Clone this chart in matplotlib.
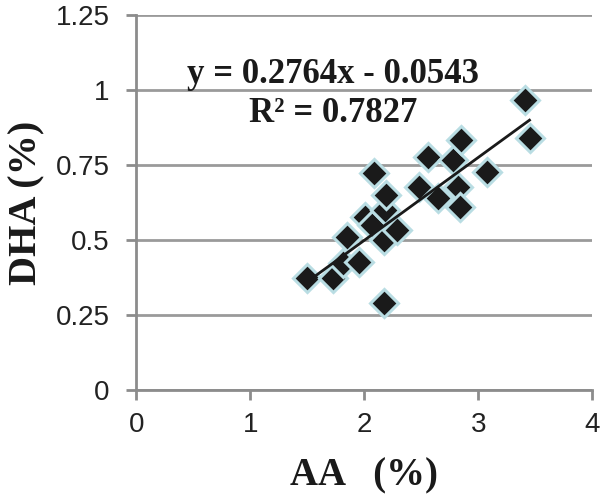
import numpy as np
import matplotlib.pyplot as plt

# AA (%) vs DHA (%)
aa = [1.50, 1.73, 1.81, 1.95, 1.85, 2.01, 2.07, 2.09, 2.17, 2.17, 2.18, 2.19,
      2.29, 2.48, 2.56, 2.65, 2.78, 2.82, 2.84, 2.85, 3.08, 3.41, 3.45]
dha = [0.373, 0.373, 0.423, 0.427, 0.51, 0.577, 0.55, 0.723, 0.50, 0.29, 0.60, 0.65,
       0.533, 0.677, 0.777, 0.64, 0.767, 0.677, 0.61, 0.833, 0.727, 0.967, 0.84]

pendiente = 0.2764
ordenada = -0.0543
r2 = 0.7827

xticks = [0, 1, 2, 3, 4]
yticks = [0, 0.25, 0.5, 0.75, 1, 1.25]
ytick_labels = ['0', '0.25', '0.5', '0.75', '1', '1.25']

fig = plt.figure(figsize=(6, 4.98), dpi=100)
ax = fig.add_axes([0.227, 0.217, 0.76, 0.753])

ax.grid(axis='y', color='#9a9a9a', linewidth=2)
ax.set_axisbelow(True)

ax.plot(aa, dha, linestyle='none', marker='D', markersize=14,
        markerfacecolor='#1a1a1a', markeredgecolor='#b9dde3', markeredgewidth=2.2, zorder=3)

# linea de tendencia
xs = np.array([min(aa), max(aa)])
ax.plot(xs, pendiente * xs + ordenada, color='#1a1a1a', linewidth=2, zorder=4)

ax.set_xlim(0, 4)
ax.set_ylim(0, 1.25)
ax.set_xticks(xticks)
ax.set_yticks(yticks)
ax.set_yticklabels(ytick_labels)

for lado in ['top', 'right']:
    ax.spines[lado].set_visible(False)
for lado in ['left', 'bottom']:
    ax.spines[lado].set_color('#8c8c8c')
    ax.spines[lado].set_linewidth(2)
ax.tick_params(direction='out', length=7, width=2, color='#8c8c8c',
               labelsize=20, labelcolor='#222222')
ax.tick_params(axis='y', pad=12)
ax.tick_params(axis='x', pad=9)
for lbl in ax.get_xticklabels() + ax.get_yticklabels():
    lbl.set_fontfamily('Liberation Sans')

serif = dict(family='Liberation Serif', fontweight='bold', color='#1a1a1a')
ax.set_xlabel('AA   (%)', fontsize=28, **serif)
ax.set_ylabel('DHA (%)', fontsize=29, **serif)
ax.xaxis.set_label_coords(0.5, -0.18)
ax.yaxis.set_label_coords(-0.2, 0.5)

ax.text(1.73, 1.023, f'y = {pendiente}x - {abs(ordenada)}',
        ha='center', va='baseline', fontsize=25, **serif)
ax.text(1.73, 0.893, f'R² = {r2}',
        ha='center', va='baseline', fontsize=25, **serif)

fig.savefig('out.png', dpi=100)
